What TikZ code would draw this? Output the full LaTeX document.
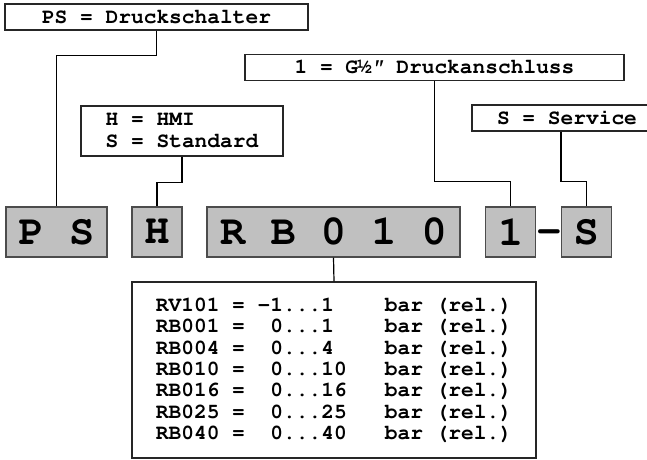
\documentclass[tikz,border=0pt]{standalone}
\usepackage[T1]{fontenc}
\definecolor{codegray}{RGB}{192,192,192}
\newcommand\codefont{\fontfamily{pcr}\fontseries{b}\selectfont}

\begin{document}
\begin{tikzpicture}[x=1pt, y=-1pt, line width=1.2pt,
    labelbox/.style={draw=black!85, inner sep=0pt, minimum height=26pt,
      font=\fontsize{21.2}{22}\codefont},
    codebox/.style={draw=black!70, fill=codegray, inner sep=0pt, minimum height=50pt,
      font=\fontsize{42}{42}\codefont}]
  \useasboundingbox (0,0) rectangle (647,459);
  % labels
  \node[labelbox, minimum width=303pt] (lps) at (156.5,17) {PS = Druckschalter};
  \node[labelbox, minimum width=202pt, minimum height=50pt, align=left] (lhs) at (182,131)
    {H = HMI\\S = Standard};
  \node[labelbox, minimum width=379pt] (lconn) at (434.5,67.6)
    {1 = G\textonehalf{\slshape\textquotedbl} Druckanschluss};
  \node[labelbox, minimum width=190pt] (lsrv) at (567,118) {S = Service};
  % code
  \node[codebox, minimum width=101pt] (cps) at (56.5,232) {P S};
  \node[codebox, minimum width=50pt] (ch) at (157,232) {H};
  \node[codebox, minimum width=253pt] (crange) at (333.5,232) {R B 0 1 0};
  \node[codebox, minimum width=50pt] (cconn) at (510.8,232) {1};
  \node[font=\fontsize{42}{42}\codefont, inner sep=0pt] (hyph) at (549,236.5) {-};
  \node[codebox, minimum width=50pt] (csrv) at (586.3,232) {S};
  % ranges
  \node[labelbox, fill=white, minimum width=404pt, minimum height=176pt, align=left,
    font=\fontsize{21.2}{21.3}\codefont] (lrange) at (334,370)
    {RV101 = -1...1\ \ \ \ bar (rel.)\\
     RB001 =\ \ 0...1\ \ \ \ bar (rel.)\\
     RB004 =\ \ 0...4\ \ \ \ bar (rel.)\\
     RB010 =\ \ 0...10\ \ \ bar (rel.)\\
     RB016 =\ \ 0...16\ \ \ bar (rel.)\\
     RB025 =\ \ 0...25\ \ \ bar (rel.)\\
     RB040 =\ \ 0...40\ \ \ bar (rel.)};
  % leads
  \draw (lps.south) -- ++(0,25) -| (cps.north);
  \draw (lhs.south) -- ++(0,25.5) -| (ch.north);
  \draw (lconn.south) -- ++(0,100.5) -| (cconn.north);
  \draw ([xshift=-6pt]lsrv.south) -- ++(0,50) -| (csrv.north);
  \draw (crange.south) -- (lrange.north);
\end{tikzpicture}
\end{document}
